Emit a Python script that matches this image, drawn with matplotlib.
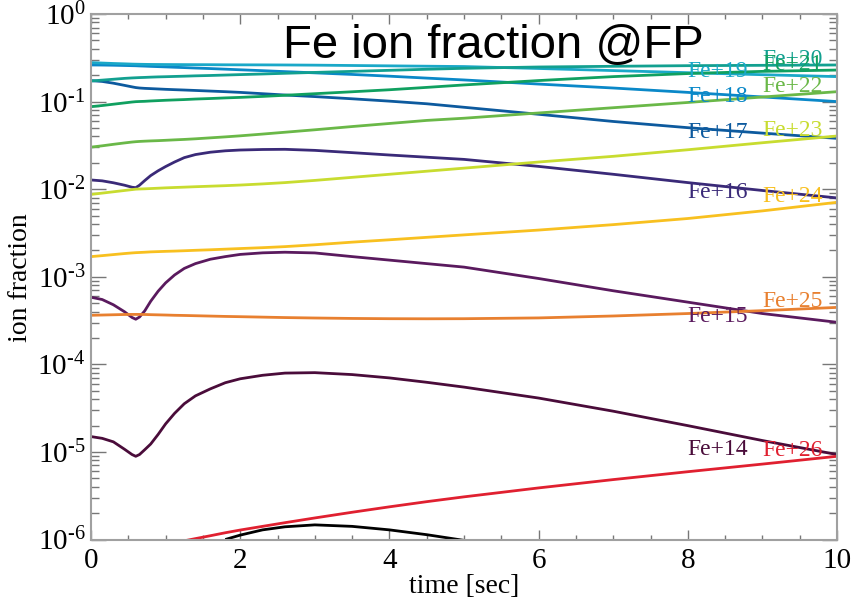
import numpy as np
import matplotlib
matplotlib.use('Agg')
import matplotlib.pyplot as plt
from matplotlib.ticker import FixedLocator, MultipleLocator, LogLocator, NullFormatter

plt.rcParams['font.family'] = ['Liberation Serif', 'DejaVu Serif']
plt.rcParams['mathtext.fontset'] = 'custom'
plt.rcParams['mathtext.rm'] = 'Liberation Serif'
plt.rcParams['mathtext.it'] = 'Liberation Serif:italic'
plt.rcParams['mathtext.bf'] = 'Liberation Serif:bold'

nan = np.nan
# time grid [sec]
time_sec = [0, 0.15, 0.3, 0.45, 0.55, 0.6, 0.65, 0.72, 0.8, 0.9, 1.0, 1.12, 1.25, 1.4,
            1.6, 1.8, 2.0, 2.3, 2.6, 3.0, 3.5, 4.0, 4.5, 5.0, 6.0, 7.0, 8.0, 9.0, 10.0]

# log10(ion fraction)
fe13 = [nan, nan, nan, nan, nan, nan, nan, nan, nan, nan, nan, nan, nan, nan,
        nan, -6.0, -5.95, -5.89, -5.855, -5.833, -5.85, -5.89, -5.945, -6.01, nan, nan, nan, nan, nan]
fe14 = [-4.825, -4.845, -4.885, -4.97, -5.03, -5.05, -5.03, -4.975, -4.91, -4.80, -4.68, -4.56, -4.45, -4.36,
        -4.28, -4.21, -4.165, -4.125, -4.10, -4.095, -4.117, -4.155, -4.205, -4.26, -4.385, -4.535, -4.70, -4.87, -5.03]
fe15 = [-3.234, -3.26, -3.32, -3.40, -3.465, -3.485, -3.46, -3.39, -3.28, -3.165, -3.07, -2.98, -2.905, -2.85,
        -2.80, -2.77, -2.745, -2.727, -2.72, -2.728, -2.77, -2.81, -2.85, -2.89, -3.02, -3.16, -3.29, -3.42, -3.52]
fe16 = [-1.895, -1.905, -1.927, -1.955, -1.978, -1.983, -1.955, -1.902, -1.845, -1.79, -1.742, -1.69, -1.64, -1.605,
        -1.578, -1.562, -1.553, -1.547, -1.545, -1.557, -1.583, -1.61, -1.635, -1.66, -1.74, -1.83, -1.925, -2.015, -2.10]
fe17 = [-0.761, -0.77, -0.79, -0.815, -0.832, -0.84, -0.845, -0.849, -0.852, -0.856, -0.86, -0.864, -0.868, -0.873,
        -0.88, -0.887, -0.895, -0.91, -0.925, -0.943, -0.968, -0.995, -1.025, -1.065, -1.145, -1.227, -1.298, -1.36, -1.42]
fe18 = [-0.582, -0.583, -0.585, -0.588, -0.59, -0.591, -0.593, -0.595, -0.598, -0.601, -0.604, -0.608, -0.612, -0.617,
        -0.623, -0.63, -0.637, -0.647, -0.658, -0.672, -0.69, -0.71, -0.732, -0.753, -0.80, -0.845, -0.895, -0.947, -1.0]
fe19 = [-0.555, -0.56, -0.565, -0.569, -0.572, -0.573, -0.574, -0.575, -0.576, -0.5765, -0.577, -0.5775, -0.578, -0.5785,
        -0.579, -0.58, -0.5805, -0.581, -0.582, -0.584, -0.588, -0.592, -0.596, -0.60, -0.622, -0.646, -0.67, -0.693, -0.715]
fe20 = [-0.765, -0.755, -0.745, -0.735, -0.73, -0.728, -0.726, -0.724, -0.721, -0.718, -0.716, -0.713, -0.71, -0.706,
        -0.702, -0.697, -0.692, -0.685, -0.677, -0.667, -0.655, -0.643, -0.631, -0.62, -0.605, -0.597, -0.59, -0.586, -0.582]
fe21 = [-1.058, -1.045, -1.03, -1.015, -1.005, -1.001, -0.999, -0.997, -0.993, -0.989, -0.985, -0.981, -0.977, -0.971,
        -0.965, -0.958, -0.952, -0.941, -0.928, -0.91, -0.888, -0.865, -0.838, -0.81, -0.76, -0.715, -0.68, -0.655, -0.64]
fe22 = [-1.52, -1.505, -1.488, -1.472, -1.462, -1.458, -1.455, -1.452, -1.449, -1.446, -1.442, -1.437, -1.432, -1.425,
        -1.414, -1.403, -1.391, -1.371, -1.35, -1.322, -1.285, -1.25, -1.215, -1.19, -1.13, -1.07, -1.01, -0.948, -0.887]
fe23 = [-2.06, -2.045, -2.03, -2.015, -2.005, -2.0, -1.998, -1.996, -1.993, -1.989, -1.985, -1.981, -1.977, -1.972,
        -1.966, -1.96, -1.953, -1.94, -1.925, -1.90, -1.865, -1.83, -1.795, -1.76, -1.69, -1.625, -1.55, -1.47, -1.393]
fe24 = [-2.77, -2.759, -2.747, -2.735, -2.728, -2.725, -2.723, -2.72, -2.716, -2.713, -2.71, -2.707, -2.703, -2.698,
        -2.692, -2.685, -2.678, -2.668, -2.656, -2.635, -2.605, -2.578, -2.55, -2.522, -2.467, -2.405, -2.335, -2.248, -2.15]
fe25 = [-3.44, -3.437, -3.434, -3.431, -3.43, -3.43, -3.43, -3.431, -3.433, -3.435, -3.437, -3.44, -3.442, -3.445,
        -3.449, -3.453, -3.456, -3.461, -3.466, -3.471, -3.476, -3.479, -3.48, -3.479, -3.47, -3.448, -3.42, -3.387, -3.35]
fe26 = [nan, nan, nan, nan, nan, nan, nan, nan, nan, nan, -6.06, -6.037, -6.015, -5.99,
        -5.957, -5.923, -5.892, -5.85, -5.808, -5.754, -5.689, -5.627, -5.568, -5.513, -5.411, -5.316, -5.226, -5.139, -5.05]

series = [fe13, fe14, fe15, fe16, fe17, fe18, fe19, fe20, fe21, fe22, fe23, fe24, fe25, fe26]
ion_names = [None, 'Fe+14', 'Fe+15', 'Fe+16', 'Fe+17', 'Fe+18', 'Fe+19', 'Fe+20',
             'Fe+21', 'Fe+22', 'Fe+23', 'Fe+24', 'Fe+25', 'Fe+26']
label_time = [None, 8, 8, 8, 8, 8, 8, 9, 9, 9, 9, 9, 9, 9]
ion_colors = ['#000000', '#4a0c3a', '#5a1a5e', '#3a2a78', '#0d5a9e', '#0a88c8', '#1aa8c8',
              '#12a090', '#10a060', '#6ab848', '#c8dc30', '#f8c020', '#e88030', '#e02030']
y_exponents = [-6, -5, -4, -3, -2, -1, 0]

fig = plt.figure(figsize=(8.59, 5.99), dpi=100)
ax = fig.add_axes([91/859, (599-539.5)/599, 746/859, 525.5/599])

t = np.array(time_sec)
for vals, name, lt, col in zip(series, ion_names, label_time, ion_colors):
    y = 10 ** np.array(vals, dtype=float)
    ax.plot(t, y, color=col, lw=2.0, solid_capstyle='butt', solid_joinstyle='round')
    if name is not None:
        ax.text(lt, y[-1], name, color=col, fontsize=17, ha='left', va='baseline')

ax.set_yscale('log')
ax.set_xlim(0, 10)
ax.set_ylim(1e-6, 1)

ax.yaxis.set_major_locator(FixedLocator([10.0 ** e for e in y_exponents]))
ax.set_yticklabels([r'$\mathregular{10^{%s}}$' % (('\u2010%d' % -e) if e < 0 else '%d' % e)
                    for e in y_exponents])
ax.yaxis.set_minor_locator(LogLocator(base=10, subs=np.arange(2, 10), numticks=20))
ax.yaxis.set_minor_formatter(NullFormatter())
ax.xaxis.set_major_locator(MultipleLocator(2))
ax.xaxis.set_minor_locator(MultipleLocator(0.5))

for s in ax.spines.values():
    s.set_color('#a0a0a0')
    s.set_linewidth(1.5)
ax.tick_params(which='both', direction='in', top=True, right=True, color='#777777',
               labelsize=21, width=1.0)
ax.tick_params(axis='y', which='major', length=10.8, pad=4)
ax.tick_params(axis='y', which='minor', length=6.0)
ax.tick_params(axis='x', which='major', length=7.5, pad=6)
ax.tick_params(axis='x', which='minor', length=3.8)

ax.set_xlabel('time [sec]', fontsize=20, labelpad=0)
fig.text(21/859, 1 - 278/599, 'ion fraction', rotation=90, fontsize=20,
         ha='center', va='center')

ax.text(0.539, 0.9157, 'Fe ion fraction @FP', transform=ax.transAxes, ha='center',
        va='baseline', fontsize=34, family='Liberation Sans', color='black')

fig.savefig('out.png', dpi=100)
